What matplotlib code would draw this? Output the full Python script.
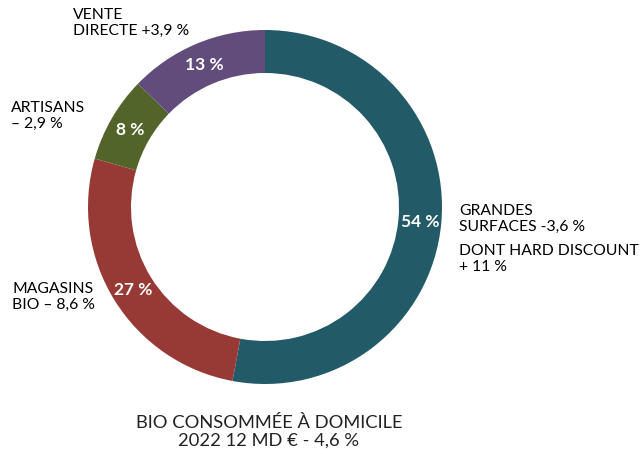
import matplotlib.pyplot as plt

plt.rcParams['font.family'] = ['Lato', 'DejaVu Sans']

# parts de marché (sens horaire depuis le haut)
segments = ["GRANDES SURFACES", "MAGASINS BIO", "ARTISANS", "VENTE DIRECTE"]
shares = [54, 27, 8, 13]
share_labels = ["54 %", "27 %", "8 %", "13 %"]
colors = ["#225a67", "#973a36", "#53642b", "#624c7c"]

outer_labels = [
    "GRANDES\nSURFACES -3,6 %",
    "MAGASINS\nBIO \u2013 8,6 %",
    "ARTISANS\n\u2013 2,9 %",
    "VENTE\nDIRECTE +3,9 %",
]
extra_label = "DONT HARD DISCOUNT\n+ 11 %"
title_lines = "BIO CONSOMMÉE À DOMICILE\n2022 12 MD € - 4,6 %"

fig = plt.figure(figsize=(6.44, 4.52), dpi=100)
ax = fig.add_axes([0, 0, 1, 1])

cx, cy, R, w = 265, 244, 177, 43
wedges, _, autotexts = ax.pie(
    shares, colors=colors, startangle=90, counterclock=False,
    center=(cx, cy), radius=R,
    wedgeprops=dict(width=w, linewidth=0),
    autopct=lambda p: "", pctdistance=(R - w / 2) / R,
    frame=True,
)
ax.set_xlim(0, 644)
ax.set_ylim(0, 452)
ax.set_aspect('equal')
ax.axis('off')

for t, lab in zip(autotexts, share_labels):
    t.set_text(lab)
    t.set_color('white')
    t.set_fontsize(12.5)
    t.set_fontweight('bold')

# étiquettes extérieures (positions en pixels depuis le haut)
pos = [(459, 204), (12, 282), (11, 101), (73, 8)]
for (x, y), lab in zip(pos, outer_labels):
    ax.text(x, 452 - y, lab, ha='left', va='top', fontsize=11.3,
            linespacing=1.2, color='#000000')
ax.text(459, 452 - 244, extra_label, ha='left', va='top', fontsize=11.3,
        linespacing=1.2, color='#000000')

ax.text(269, 452 - 432, title_lines, ha='center', va='center', fontsize=13.2,
        linespacing=1.15, color='#222222')

fig.savefig('out.png', dpi=100)
